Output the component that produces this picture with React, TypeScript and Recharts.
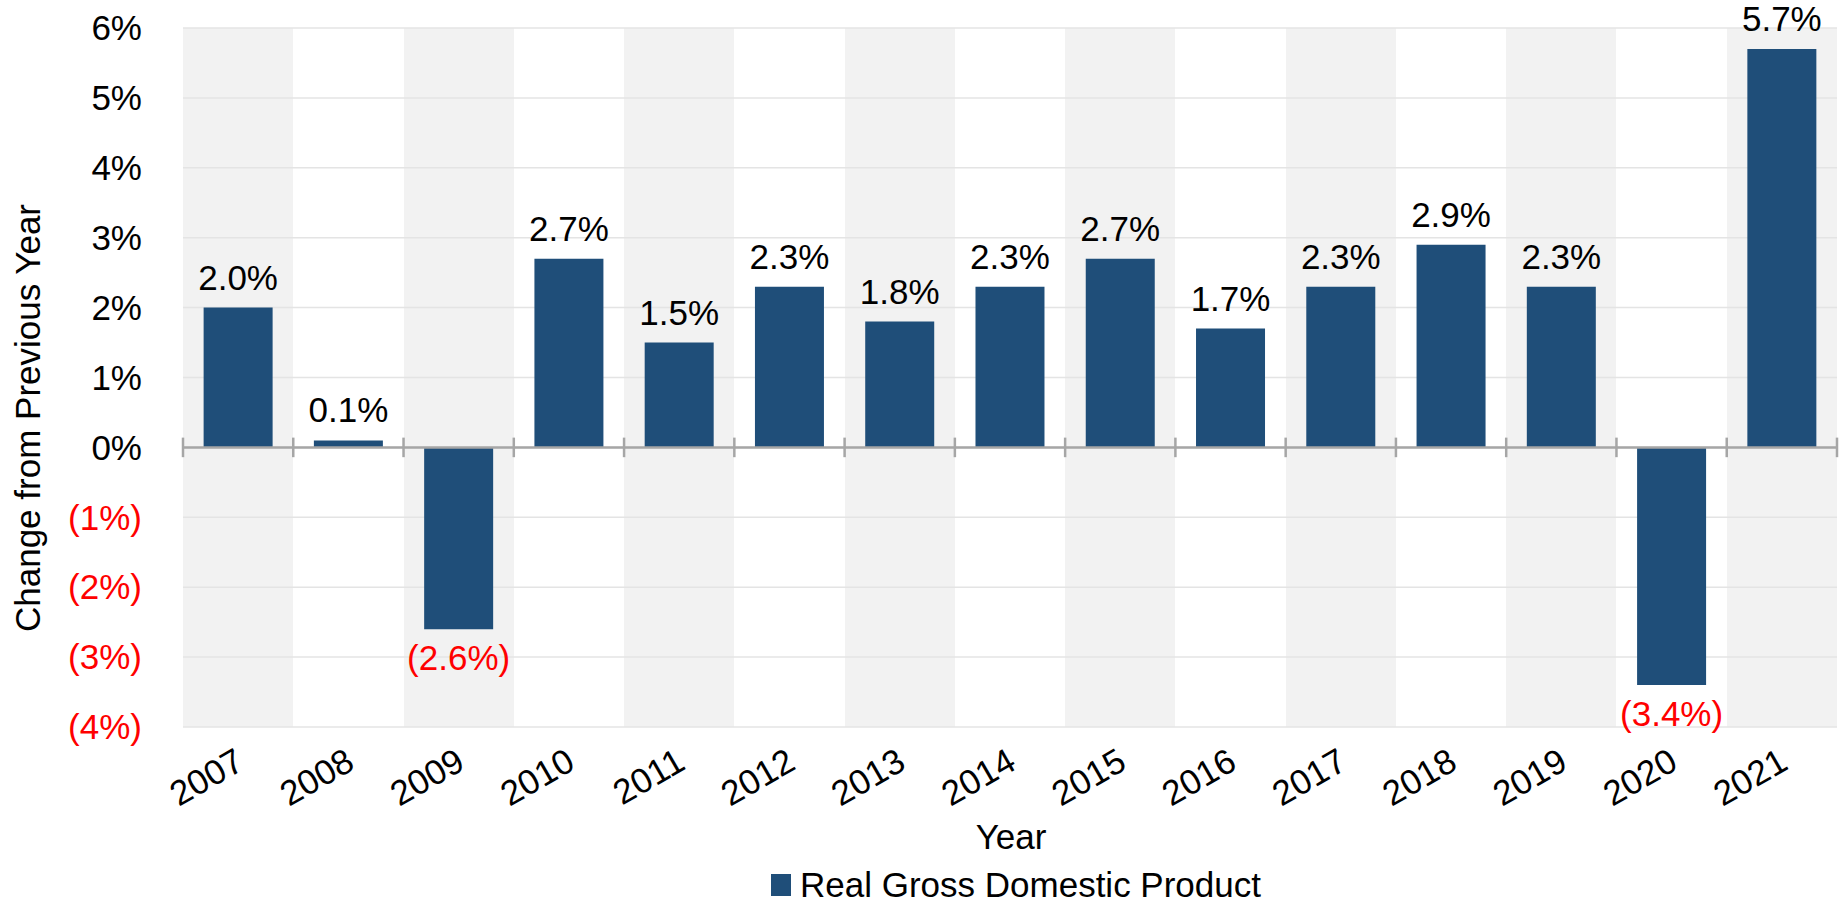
import {
  BarChart,
  Bar,
  XAxis,
  YAxis,
  CartesianGrid,
  ReferenceLine,
  Legend,
  Label,
} from 'recharts';

// Real GDP, change from previous year (%)
const YEARS = [
  '2007', '2008', '2009', '2010', '2011', '2012', '2013', '2014',
  '2015', '2016', '2017', '2018', '2019', '2020', '2021',
];
const GDP_CHANGE = [2.0, 0.1, -2.6, 2.7, 1.5, 2.3, 1.8, 2.3, 2.7, 1.7, 2.3, 2.9, 2.3, -3.4, 5.7];
const Y_TICKS = [-4, -3, -2, -1, 0, 1, 2, 3, 4, 5, 6];

const data = YEARS.map((year, i) => ({ year, gdp: GDP_CHANGE[i] }));

const FONT = '"Liberation Sans", Arial, sans-serif';
const FONT_SIZE = 35;
const BAR_COLOR = '#1F4E79';
const NEG_COLOR = '#FF0000';
const AXIS_GREY = '#A6A6A6';

const fmtPct = (v: number, digits: number) =>
  v < 0 ? `(${Math.abs(v).toFixed(digits)}%)` : `${v.toFixed(digits)}%`;

const YTick = ({ x, y, payload }: any) => (
  <text
    x={x}
    y={y}
    dy="0.35em"
    textAnchor="end"
    fontSize={FONT_SIZE}
    fontFamily={FONT}
    fill={payload.value < 0 ? NEG_COLOR : '#000'}
  >
    {fmtPct(payload.value, 0)}
  </text>
);

const XTick = ({ x, y, payload }: any) => (
  <g transform={`translate(${x + 8},${y + 41})`}>
    <text x={0} y={0} textAnchor="end" transform="rotate(-30)" fontSize={FONT_SIZE} fontFamily={FONT} fill="#000">
      {payload.value}
    </text>
  </g>
);

const renderBarLabel = (props: any) => {
  const vb = props.viewBox ?? props;
  const x = vb.x ?? props.x;
  const y = vb.y ?? props.y;
  const width = vb.width ?? props.width;
  const height = vb.height ?? props.height;
  const raw = Array.isArray(props.value) ? props.value[1] : props.value;
  const value = Number(raw);
  const top = Math.min(y, y + height);
  const bottom = Math.max(y, y + height);
  const neg = value < 0;
  return (
    <text
      x={x + width / 2}
      y={neg ? bottom + 41 : top - 18}
      textAnchor="middle"
      fontSize={FONT_SIZE}
      fontFamily={FONT}
      fill={neg ? NEG_COLOR : '#000'}
    >
      {fmtPct(value, 1)}
    </text>
  );
};

const LegendContent = ({ payload }: any) => (
  <div style={{ display: 'flex', alignItems: 'center', fontFamily: FONT, fontSize: FONT_SIZE, color: '#000' }}>
    {(payload || []).map((item: any) => (
      <div key={item.value} style={{ display: 'flex', alignItems: 'center' }}>
        <span style={{ display: 'inline-block', width: 20, height: 22, background: BAR_COLOR, marginRight: 9 }} />
        <span>{item.value}</span>
      </div>
    ))}
  </div>
);

export default function App() {
  // band boundaries for the alternating background stripes
  const bandEdges = ({ offset, width }: any) => {
    const plotWidth = offset.width ?? width - offset.left - offset.right;
    return YEARS.map((_, i) => offset.left + (i * plotWidth) / YEARS.length);
  };

  return (
    <div style={{ position: 'absolute', left: 0, top: 0, background: '#fff' }}>
      <BarChart
        width={1846}
        height={908}
        data={data}
        margin={{ top: 28, right: 9, bottom: 81, left: 0 }}
        barCategoryGap="18.7%"
      >
        <CartesianGrid
          horizontal={false}
          stroke="none"
          verticalFill={['#F2F2F2', '#FFFFFF']}
          verticalCoordinatesGenerator={bandEdges}
        />
        <CartesianGrid vertical={false} stroke="#E4E4E4" strokeWidth={1.5} />
        <XAxis
          dataKey="year"
          height={100}
          axisLine={false}
          tickLine={false}
          tickSize={0}
          tickMargin={0}
          interval={0}
          tick={<XTick />}
        >
          <Label
            content={() => (
              <text x={1011} y={837} dy="0.35em" textAnchor="middle" fontSize={FONT_SIZE} fontFamily={FONT} fill="#000">
                Year
              </text>
            )}
          />
        </XAxis>
        <YAxis
          width={183}
          domain={[-4, 6]}
          ticks={Y_TICKS}
          axisLine={false}
          tickLine={false}
          tickSize={0}
          tickMargin={41}
          tick={<YTick />}
        >
          <Label
            content={() => (
              <text
                transform="translate(28,418) rotate(-90)"
                dy="0.35em"
                textAnchor="middle"
                fontSize={FONT_SIZE}
                fontFamily={FONT}
                fill="#000"
              >
                Change from Previous Year
              </text>
            )}
          />
        </YAxis>
        <Bar
          dataKey="gdp"
          name="Real Gross Domestic Product"
          fill={BAR_COLOR}
          isAnimationActive={false}
          label={renderBarLabel}
        />
        <ReferenceLine y={0} stroke={AXIS_GREY} strokeWidth={2.5} />
        {YEARS.map((year) => (
          <ReferenceLine
            key={`tick-${year}`}
            segment={[{ x: year, y: -0.14 }, { x: year, y: 0.14 }]}
            position="start"
            stroke={AXIS_GREY}
            strokeWidth={2.5}
          />
        ))}
        <ReferenceLine
          segment={[
            { x: YEARS[YEARS.length - 1], y: -0.14 },
            { x: YEARS[YEARS.length - 1], y: 0.14 },
          ]}
          position="end"
          stroke={AXIS_GREY}
          strokeWidth={2.5}
        />
        <Legend
          layout="horizontal"
          verticalAlign="middle"
          align="center"
          wrapperStyle={{ left: 771, top: 865, width: 800 }}
          content={<LegendContent />}
        />
      </BarChart>
    </div>
  );
}
